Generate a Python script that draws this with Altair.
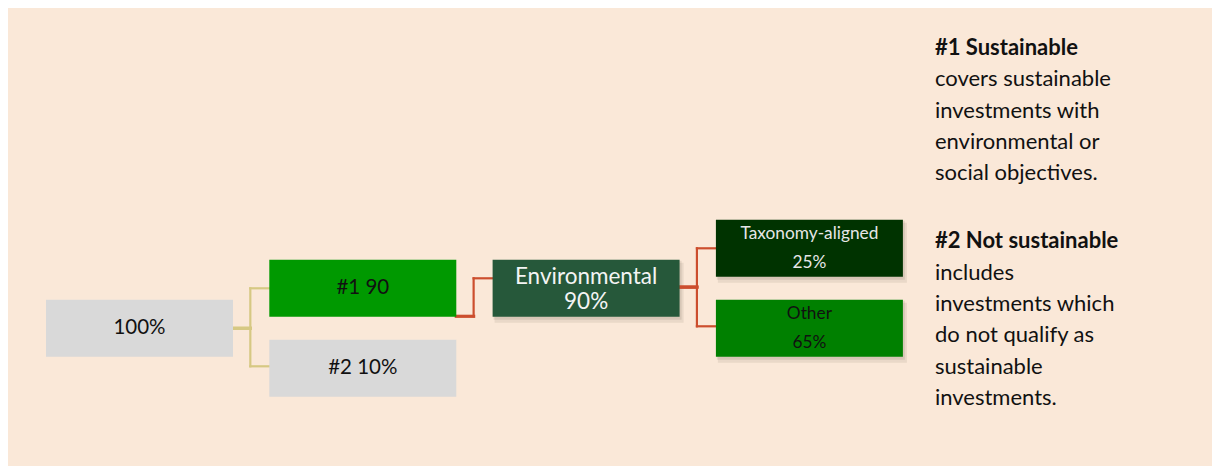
import altair as alt
import pandas as pd

# ---------------- data ----------------
node_id = ["total", "s1", "s2", "env", "tax", "other"]
node_name = ["", "#1", "#2", "Environmental", "Taxonomy-aligned", "Other"]
node_share = ["100%", "90", "10%", "90%", "25%", "65%"]
node_parent = [None, "total", "total", "s1", "env", "env"]

legend_heads = ["#1 Sustainable", "#2 Not sustainable"]
legend_bodies = [
    ["covers sustainable", "investments with", "environmental or", "social objectives."],
    ["includes", "investments which", "do not qualify as", "sustainable", "investments."],
]

# ---------------- layout / style ----------------
FONT = "Lato"
BG = "#FAE8D8"
LEVEL = {"total": 0, "s1": 1, "s2": 1, "env": 2, "tax": 3, "other": 3}
SLOT = {"total": 0, "s1": -1, "s2": 1, "env": -1, "tax": -2, "other": 0}
ANCHOR_OUT = {"total": 0.0, "s1": 0.7, "env": -0.03}
ANCHOR_IN = {"s1": 0.0, "s2": -0.05, "env": -0.25, "tax": 0.0, "other": -0.05}
FILL = {"total": "#D9D9D9", "s1": "#009900", "s2": "#D9D9D9",
        "env": "#26583A", "tax": "#003300", "other": "#008000"}
INK = {"total": "#111111", "s1": "#111111", "s2": "#111111",
       "env": "#F4F4F4", "tax": "#E6E6E6", "other": "#111111"}
LINE = {"total": "#D6C883", "s1": "#CC4E2E", "env": "#CC4E2E"}
SHADOW = {"env", "tax", "other"}
BOX_W, BOX_H = 0.8374, 1.425
ELBOW = 0.915
STACK = {"env": (-0.29, 0.33, 22.5), "tax": (-0.365, 0.37, 17.3), "other": (-0.365, 0.37, 17.3)}
SINGLE_SIZE = 20.5
LEG_X = 3.981
LEG_Y0 = (55 - 328.3) / 40
LEG_STEP = 31.3 / 40
LEG_BLOCK2 = 6.18
LEG_SIZE = 22

W, H = 1204, 458
XS = alt.Scale(domain=[-0.1702, -0.1702 + W / 223.3], nice=False, zero=False)
YS = alt.Scale(domain=[-320.3 / 40, (H - 320.3) / 40], nice=False, zero=False, reverse=True)

# ---------------- tables ----------------
boxes = pd.DataFrame({
    "id": node_id,
    "x": [LEVEL[n] for n in node_id],
    "x2": [LEVEL[n] + BOX_W for n in node_id],
    "y": [SLOT[n] - BOX_H / 2 for n in node_id],
    "y2": [SLOT[n] + BOX_H / 2 for n in node_id],
})
shadows = boxes[boxes["id"].isin(SHADOW)]

segs = []
for n, p in zip(node_id, node_parent):
    if p is None:
        continue
    py = SLOT[p] + ANCHOR_OUT[p]
    cy = SLOT[n] + ANCHOR_IN[n]
    ex = LEVEL[p] + ELBOW
    px = LEVEL[p] + BOX_W
    col = LINE[p]
    segs.append({"x": px, "x2": ex, "y": py, "y2": py, "c": col, "w": 3.2})
    segs.append({"x": ex, "x2": ex, "y": py, "y2": cy, "c": col, "w": 2.2})
    segs.append({"x": ex, "x2": LEVEL[n], "y": cy, "y2": cy, "c": col, "w": 2.2})
segs = pd.DataFrame(segs)

labels = []
for n, name, share in zip(node_id, node_name, node_share):
    cx = LEVEL[n] + BOX_W / 2
    if n in STACK:
        o1, o2, fs = STACK[n]
        labels.append({"x": cx, "y": SLOT[n] + o1, "t": name, "c": INK[n], "s": fs})
        labels.append({"x": cx, "y": SLOT[n] + o2, "t": share, "c": INK[n], "s": fs})
    else:
        labels.append({"x": cx, "y": SLOT[n], "t": (name + " " + share).strip(),
                       "c": INK[n], "s": SINGLE_SIZE})
labels = pd.DataFrame(labels)

heads, bodies = [], []
starts = [0, LEG_BLOCK2]
for k, (h, body) in enumerate(zip(legend_heads, legend_bodies)):
    heads.append({"x": LEG_X, "y": LEG_Y0 + starts[k] * LEG_STEP, "t": h})
    for j, line in enumerate(body):
        bodies.append({"x": LEG_X, "y": LEG_Y0 + (starts[k] + j + 1) * LEG_STEP, "t": line})
heads = pd.DataFrame(heads)
bodies = pd.DataFrame(bodies)

def X(f="x"):
    return alt.X(f"{f}:Q", scale=XS, axis=None)

def Y(f="y"):
    return alt.Y(f"{f}:Q", scale=YS, axis=None)

shadow1 = alt.Chart(shadows).mark_rect(color="#5a4a3a", opacity=0.10, xOffset=2, x2Offset=4, yOffset=3, y2Offset=6).encode(
    x=X(), x2="x2:Q", y=Y(), y2="y2:Q")
shadow2 = alt.Chart(shadows).mark_rect(color="#5a4a3a", opacity=0.12, xOffset=1, x2Offset=2, yOffset=1, y2Offset=3).encode(
    x=X(), x2="x2:Q", y=Y(), y2="y2:Q")

rects = alt.Chart(boxes).mark_rect().encode(
    x=X(), x2="x2:Q", y=Y(), y2="y2:Q",
    color=alt.Color("id:N", scale=alt.Scale(domain=node_id, range=[FILL[n] for n in node_id]), legend=None),
)

lines = alt.Chart(segs).mark_rule(strokeCap="square").encode(
    x=X(), x2="x2:Q", y=Y(), y2="y2:Q",
    color=alt.Color("c:N", scale=None),
    strokeWidth=alt.StrokeWidth("w:Q", scale=None),
)

node_text = alt.Chart(labels).mark_text(font=FONT, baseline="middle", align="center").encode(
    x=X(), y=Y(), text="t:N",
    color=alt.Color("c:N", scale=None),
    size=alt.Size("s:Q", scale=None),
)

head_text = alt.Chart(heads).mark_text(font=FONT, fontWeight="bold", fontSize=LEG_SIZE, align="left",
                                       baseline="alphabetic", color="#111111").encode(
    x=X(), y=Y(), text="t:N")
body_text = alt.Chart(bodies).mark_text(font=FONT, fontSize=LEG_SIZE, align="left",
                                        baseline="alphabetic", color="#111111").encode(
    x=X(), y=Y(), text="t:N")

chart = alt.layer(shadow1, shadow2, lines, rects, node_text, head_text, body_text).properties(
    width=W, height=H, padding=0, autosize=alt.AutoSizeParams(type="none"), background=BG,
).configure_view(stroke=None)

chart.save("out.html", embed_options={"renderer": "svg", "actions": False})
